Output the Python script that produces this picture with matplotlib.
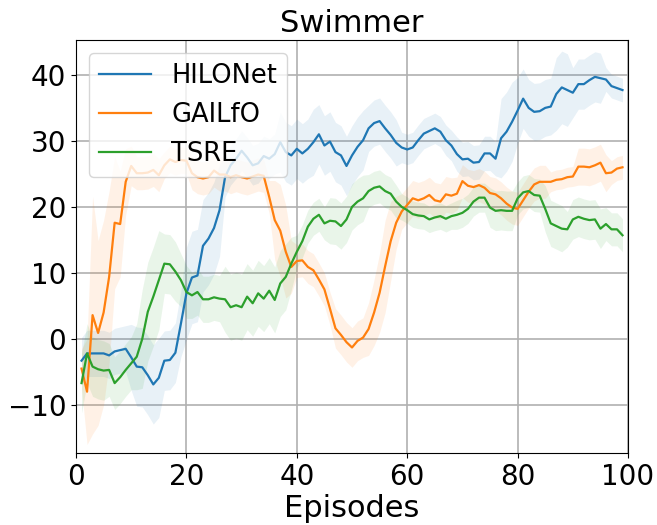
import matplotlib
matplotlib.use("Agg")
import matplotlib.pyplot as plt
import numpy as np

episodes = list(range(1, 100))

hilonet_mean = [
    -3.3, -2.2, -2.2, -2.2, -2.2, -2.5, -1.9, -1.7, -1.5, -2.8,
    -4.2, -4.3, -5.5, -6.9, -5.9, -3.3, -3.2, -2.1, 2.3, 6.9,
    9.3, 9.6, 14.1, 15.2, 16.8, 19.5, 24.5, 26.3, 27.3, 28.5,
    27.5, 26.3, 26.6, 27.7, 27.3, 28.0, 29.8, 28.3, 27.8, 28.8,
    28.1, 28.8, 29.8, 31.0, 29.3, 29.9, 28.3, 27.8, 26.2, 27.8,
    29.1, 30.1, 31.9, 32.7, 33.0, 31.9, 30.9, 29.7, 29.0, 28.7,
    29.0, 30.1, 31.1, 31.5, 31.9, 31.4, 30.1, 29.3, 28.0, 27.2,
    27.3, 26.7, 26.8, 28.1, 28.1, 27.3, 30.4, 31.4, 32.9, 34.6,
    36.4, 35.0, 34.4, 34.5, 35.0, 35.2, 37.1, 38.1, 37.7, 37.3,
    38.6, 38.6, 39.2, 39.7, 39.5, 39.3, 38.3, 38.0, 37.7,
]
hilonet_std = [
    3.5, 3.5, 3.5, 3.5, 3.5, 3.5, 3.5, 3.5, 3.5, 5.0,
    6.0, 6.0, 6.0, 6.0, 6.0, 4.5, 4.5, 4.5, 5.0, 7.0,
    7.0, 7.0, 7.0, 7.0, 7.0, 7.0, 3.0, 3.0, 3.0, 3.0,
    3.0, 3.0, 3.0, 3.0, 3.0, 3.0, 4.5, 4.5, 4.5, 4.5,
    4.5, 4.5, 5.0, 4.5, 4.5, 4.5, 4.5, 4.5, 4.5, 4.5,
    4.5, 4.5, 3.5, 3.5, 3.5, 3.5, 3.5, 3.5, 2.3, 2.3,
    2.3, 2.3, 2.3, 2.3, 2.3, 2.3, 2.3, 2.3, 2.6, 2.6,
    2.6, 2.6, 2.6, 2.6, 2.6, 2.6, 6.0, 6.0, 6.0, 5.0,
    4.5, 4.3, 4.3, 4.3, 4.3, 4.3, 5.5, 5.5, 5.5, 3.8,
    3.8, 3.8, 3.8, 3.8, 3.8, 1.8, 1.8, 1.8, 1.8,
]

gailfo_mean = [
    -4.5, -8.0, 3.6, 0.9, 4.0, 9.4, 17.6, 17.4, 23.8, 26.2,
    25.1, 25.1, 25.2, 25.6, 24.8, 26.3, 27.2, 26.8, 27.1, 27.0,
    25.1, 24.5, 24.3, 24.5, 25.5, 24.9, 24.9, 24.5, 24.8, 24.5,
    24.3, 24.6, 24.9, 24.7, 21.5, 18.0, 16.4, 13.2, 10.9, 11.8,
    11.9, 10.9, 10.4, 9.0, 7.5, 4.6, 1.6, 0.6, -0.5, -1.3,
    -0.3, 0.2, 1.5, 4.0, 7.0, 11.0, 14.8, 17.6, 19.3, 20.3,
    21.3, 21.0, 21.3, 21.8, 21.0, 20.8, 21.9, 21.7, 22.0, 23.9,
    23.2, 23.0, 23.3, 22.9, 22.1, 21.9, 21.3, 20.5, 19.9, 19.7,
    21.0, 22.3, 23.4, 23.8, 23.8, 23.8, 24.1, 24.2, 24.5, 24.6,
    26.1, 26.1, 26.0, 26.3, 26.7, 25.1, 25.2, 25.8, 26.0,
]
gailfo_std = [
    3.0, 8.0, 18.0, 14.0, 14.0, 13.0, 10.0, 8.0, 5.0, 3.0,
    2.5, 2.5, 2.5, 2.5, 2.5, 2.0, 2.0, 2.0, 2.0, 2.0,
    2.5, 2.5, 2.5, 2.5, 2.5, 2.5, 2.5, 2.5, 2.5, 2.5,
    2.5, 2.5, 2.5, 2.5, 2.5, 6.0, 7.0, 7.0, 4.0, 2.5,
    2.5, 2.5, 2.5, 2.5, 2.5, 2.5, 3.0, 3.0, 3.0, 3.0,
    3.0, 3.0, 4.0, 5.0, 6.0, 7.0, 6.0, 4.0, 2.7, 2.7,
    2.7, 2.7, 2.7, 2.7, 2.7, 2.7, 2.7, 2.7, 2.5, 2.5,
    2.5, 2.5, 2.5, 2.5, 2.5, 2.5, 2.5, 2.5, 2.5, 2.5,
    2.5, 2.5, 2.5, 2.5, 2.5, 1.5, 1.5, 1.5, 1.5, 1.5,
    2.8, 2.8, 2.8, 2.8, 2.8, 2.8, 1.8, 1.8, 1.8,
]

tsre_mean = [
    -6.7, -2.2, -4.2, -4.6, -4.8, -4.7, -6.7, -5.8, -4.7, -3.7,
    -2.7, 0.0, 4.1, 6.4, 8.9, 11.4, 11.3, 10.2, 8.9, 7.1,
    6.6, 7.1, 6.0, 6.0, 6.3, 6.1, 6.0, 4.8, 5.1, 4.8,
    6.4, 5.4, 6.9, 6.1, 7.3, 5.9, 8.4, 9.4, 11.4, 13.2,
    14.8, 17.0, 18.2, 18.8, 17.5, 17.9, 17.8, 17.1, 18.1, 20.0,
    20.8, 21.3, 22.4, 22.9, 23.1, 22.4, 22.0, 20.8, 20.0, 19.5,
    18.9, 18.7, 18.6, 18.1, 18.4, 18.6, 18.2, 18.6, 18.8, 19.1,
    19.7, 20.8, 21.4, 21.4, 19.9, 19.4, 19.5, 19.4, 19.4, 21.3,
    22.2, 22.4, 21.8, 21.7, 19.7, 17.5, 17.1, 16.7, 16.6, 18.1,
    18.5, 18.2, 18.0, 18.1, 16.7, 17.4, 16.6, 16.6, 15.7,
]
tsre_std = [
    4.5, 4.5, 4.5, 4.5, 4.5, 4.0, 4.0, 4.0, 4.0, 4.0,
    5.0, 7.5, 7.5, 7.5, 7.5, 4.5, 4.5, 4.5, 4.0, 4.0,
    3.5, 3.5, 3.5, 3.5, 3.5, 3.5, 5.0, 5.0, 5.0, 5.0,
    5.0, 5.0, 5.0, 5.0, 5.0, 5.0, 5.0, 5.0, 4.0, 2.5,
    2.5, 2.5, 2.5, 2.5, 2.5, 3.5, 3.5, 3.5, 3.5, 3.5,
    3.5, 3.5, 2.5, 2.5, 2.5, 2.5, 2.5, 2.5, 2.0, 2.0,
    2.0, 2.0, 2.0, 2.0, 2.0, 2.0, 2.0, 2.0, 2.2, 2.2,
    2.2, 2.2, 2.2, 2.2, 3.0, 3.0, 3.0, 3.0, 3.0, 2.5,
    2.5, 2.5, 2.5, 2.5, 3.5, 3.5, 3.5, 3.5, 2.7, 3.0,
    3.0, 3.0, 3.0, 3.0, 3.0, 2.5, 2.5, 2.5, 2.5,
]

series = [
    ("HILONet", hilonet_mean, hilonet_std, "#1f77b4"),
    ("GAILfO", gailfo_mean, gailfo_std, "#ff7f0e"),
    ("TSRE", tsre_mean, tsre_std, "#2ca02c"),
]

fig = plt.figure(figsize=(6.57, 5.25), dpi=100)
ax = fig.add_axes([0.1157, 0.137, 0.8402, 0.787])

x = np.array(episodes)
for name, mean, std, color in series:
    m = np.array(mean)
    s = np.array(std)
    ax.plot(x, m, color=color, linewidth=1.6, label=name)
    ax.fill_between(x, m - s, m + s, color=color, alpha=0.1, linewidth=0)

ax.set_xlim(0, 100)
ax.set_ylim(-17.3, 45.3)
ax.set_xticks([0, 20, 40, 60, 80, 100])
ax.set_yticks([-10, 0, 10, 20, 30, 40])
ax.tick_params(labelsize=20)
ax.grid(True, color="#b0b0b0", linewidth=1.2)
ax.set_axisbelow(True)
ax.set_xlabel("Episodes", fontsize=22, labelpad=2)
ax.set_title("Swimmer", fontsize=22, pad=6)
ax.legend(loc="upper left", fontsize=18.5)

fig.savefig("out.png", dpi=100)
